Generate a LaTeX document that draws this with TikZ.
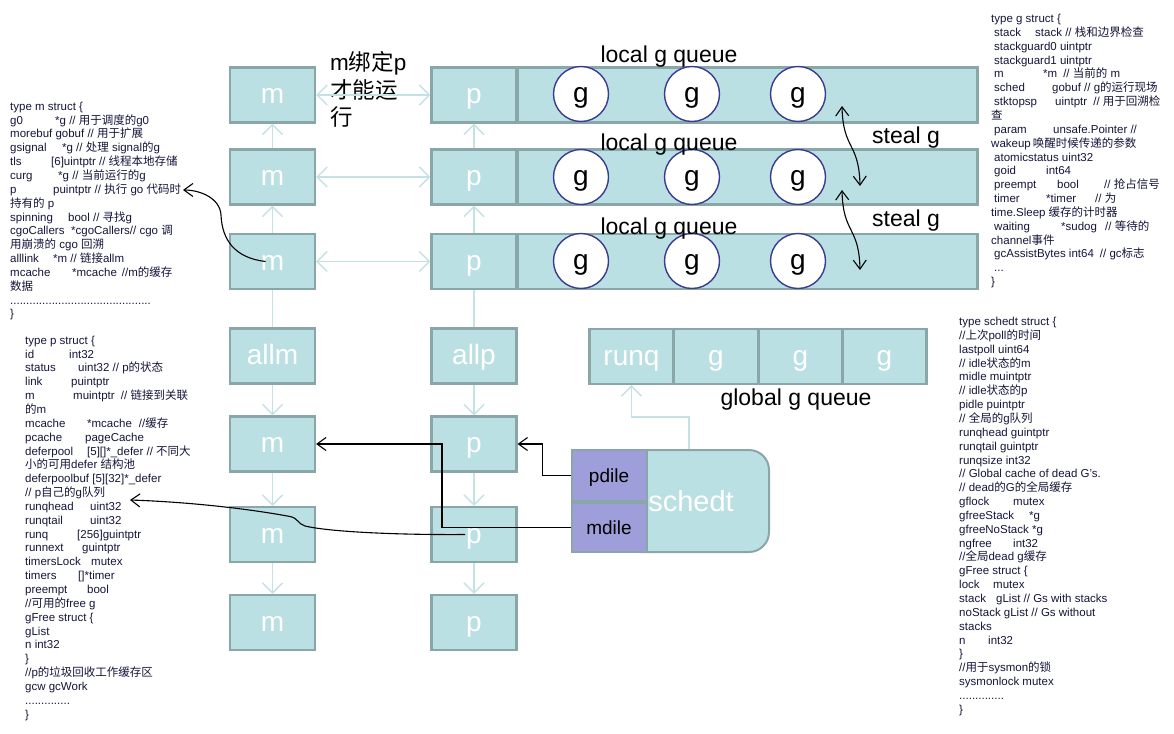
\documentclass[tikz,border=0pt]{standalone}
\usepackage{fontspec}
\setmainfont{Liberation Sans}
\newfontfamily\cjk{Noto Sans CJK SC}
\usetikzlibrary{arrows.meta,calc}
\definecolor{boxfill}{HTML}{BBE0E3}
\definecolor{boxline}{HTML}{89A6A8}
\definecolor{lightarr}{HTML}{C4E2E6}
\definecolor{purp}{HTML}{9E9EDB}
\definecolor{circ}{HTML}{3A3A90}
\definecolor{codecol}{HTML}{15153A}
\newcommand\zhs[1]{{\cjk #1}}
\newcommand\tcol[2]{\makebox[#1pt][l]{#2}}
\tikzset{LTip/.tip={Straight Barb[length=10pt,width=20pt]},
         BTip/.tip={Straight Barb[length=9pt,width=13pt]}}
\begin{document}
\begin{tikzpicture}[x=1pt,y=-1pt,
 bx/.style={draw=boxline, fill=boxfill, line width=2.2pt, minimum width=85pt, minimum height=55pt, inner sep=0pt, text=white, font=\fontsize{28}{30}\selectfont, text height=21pt, text depth=4pt},
 qbox/.style={draw=boxline, fill=boxfill, line width=2.2pt, minimum width=460pt, minimum height=55pt, inner sep=0pt},
 cell/.style={bx, minimum width=84pt},
 gc/.style={circle, draw=circ, fill=white, line width=1.4pt, minimum size=55pt, inner sep=0pt, font=\fontsize{28}{30}\selectfont, text height=21pt, text depth=4pt},
 pbox/.style={draw=boxline, fill=purp, line width=2pt, minimum width=75pt, inner sep=0pt, font=\fontsize{19}{20}\selectfont, text height=14pt, text depth=1pt},
 big/.style={font=\fontsize{23}{25}\selectfont, inner sep=0pt, anchor=base},
 code/.style={anchor=north west, align=left, inner sep=0pt, text=codecol, font=\fontsize{11.5}{13.85}\selectfont},
 larr/.style={draw=lightarr, line width=1.5pt, -{LTip}},
 ldbl/.style={draw=lightarr, line width=1.5pt, {LTip}-{LTip}},
 lline/.style={draw=lightarr, line width=1.5pt},
 barr/.style={draw=black, line width=1.1pt, -{BTip}},
 bdbl/.style={draw=black, line width=1.1pt, {BTip}-{BTip}},
]
\fill[white] (0,0) rectangle (1174,733);
\useasboundingbox (0,0) rectangle (1174,733);

% m column
\node[bx] (m1) at (272.5,95) {m};
\node[bx] (m2) at (272.5,177) {m};
\node[bx] (m3) at (272.5,261.5) {m};
\node[bx] (allm) at (272.5,356) {allm};
\node[bx] (m4) at (272.5,444) {m};
\node[bx] (m5) at (272.5,534.5) {m};
\node[bx] (m6) at (272.5,622.5) {m};

% queues and p column
\node[qbox] (q1) at (747.5,95) {};
\node[qbox] (q2) at (747.5,177) {};
\node[qbox] (q3) at (747.5,261.5) {};
\node[bx] (p1) at (474,95) {p};
\node[bx] (p2) at (474,177) {p};
\node[bx] (p3) at (474,261.5) {p};
\node[bx] (allp) at (474,356) {allp};
\node[bx] (p4) at (474,444) {p};
\node[bx] (p5) at (474,534.5) {p};
\node[bx] (p6) at (474,622.5) {p};

% g circles
\foreach \r/\yy in {1/94,2/177,3/261}{
  \node[gc] (g\r a) at (581,\yy) {g};
  \node[gc] (g\r b) at (692,\yy) {g};
  \node[gc] (g\r c) at (798,\yy) {g};
}

% global queue
\node[cell] (runq) at (631.5,356.5) {runq};
\node[cell] (rg1) at (716,356.5) {g};
\node[cell] (rg2) at (800.5,356.5) {g};
\node[cell] (rg3) at (884.5,356.5) {g};
\node[big] (glbl) at (796,405) {global g queue};

% schedt
\node[draw=boxline, fill=boxfill, line width=2pt, rounded corners=20pt, minimum width=148pt, minimum height=102pt] (schedt) at (695,501) {};
\node[text=white, font=\fontsize{29}{30}\selectfont, inner sep=0pt, text height=21pt, text depth=4pt] (schedtlbl) at (691,503) {schedt};
\node[pbox, minimum height=51pt] (pdile) at (609,475.5) {pdile};
\node[pbox, minimum height=49pt] (mdile) at (609,527.5) {mdile};

% labels
\node[big] (lq1) at (669,62.5) {local g queue};
\node[big] (lq2) at (669,150) {local g queue};
\node[big] (lq3) at (669,234) {local g queue};
\node[big] (st1) at (906,143) {steal g};
\node[big] (st2) at (906,226) {steal g};
\node[anchor=north west, align=left, inner sep=0pt, font=\fontsize{22.5}{27.5}\selectfont] (bind) at (330,50.5)
  {\rule{0pt}{20pt}m\zhs{绑定}p\\\zhs{才能运}\\\zhs{行}};

% light connectors
\draw[ldbl] (m1.east) -- (p1.west);
\draw[ldbl] (m2.east) -- (p2.west);
\draw[ldbl] (m3.east) -- (p3.west);
\draw[larr] (m2.north) -- (m1.south);
\draw[larr] (m3.north) -- (m2.south);
\draw[lline] (allm.north) -- (m3.south);
\draw[larr] (allm.south) -- (m4.north);
\draw[larr] (m4.south) -- (m5.north);
\draw[larr] (m5.south) -- (m6.north);
\draw[larr] (p2.north) -- (p1.south);
\draw[larr] (p3.north) -- (p2.south);
\draw[lline] (allp.north) -- (p3.south);
\draw[larr] (allp.south) -- (p4.north);
\draw[larr] (p4.south) -- (p5.north);
\draw[larr] (p5.south) -- (p6.north);
\coordinate (stop) at (689,449);
\draw[larr] (stop) -- ++(0,-32) -| (runq.south);

% black connectors
\draw[barr] (pdile.west) -- ++(-28,0) |- (p4.east);
\coordinate (mk) at (442,444);
\draw[barr] (mdile.west) -| (mk) -- (m4.east);
\coordinate (s1a) at (842,106);
\coordinate (s1b) at (860,186);
\coordinate (s2a) at (842,190);
\coordinate (s2b) at (860,270);
\draw[bdbl] (s1a) .. controls (843,150) and (859,142) .. (s1b);
\draw[bdbl] (s2a) .. controls (843,234) and (859,226) .. (s2b);
\coordinate (rqh) at (130,500);
\coordinate (pln) at (183,190);
\draw[barr] ([xshift=-9pt]p5.center) .. controls (400,535) and (330,532) .. (305,526)
   .. controls (298,524) and (298,518) .. (290,516.5) .. controls (250,509) and (190,502) .. (rqh);
\draw[barr] ([xshift=-7pt]m3.center) .. controls (235,258) and (222,240) .. (221,215)
   .. controls (220,198) and (200,190) .. (pln);

% code blocks
\node[code] (mstruct) at (10,100) {\rule{0pt}{10pt}type m struct \{\\
\tcol{45}{g0}*g // \zhs{用于调度的}g0\\
morebuf gobuf // \zhs{用于扩展}\\
\tcol{52}{gsignal}*g // \zhs{处理} signal\zhs{的}g\\
\tcol{41}{tls}[6]uintptr // \zhs{线程本地存储}\\
\tcol{48}{curg}*g // \zhs{当前运行的}g\\
\tcol{43}{p}puintptr // \zhs{执行} go \zhs{代码时}\\
\zhs{持有的} p\\
\tcol{58}{spinning}bool // \zhs{寻找}g\\
\tcol{61}{cgoCallers}*cgoCallers// cgo \zhs{调}\\
\zhs{用崩溃的} cgo \zhs{回溯}\\
\tcol{43}{alllink}*m // \zhs{链接}allm\\
\tcol{62}{mcache}*mcache\hspace*{5pt}//m\zhs{的缓存}\\
\zhs{数据}\\
............................................\\
\}};

\node[code] (pstruct) at (25,334) {\rule{0pt}{10pt}type p struct \{\\
\tcol{44}{id}int32\\
\tcol{53}{status}uint32 // p\zhs{的状态}\\
\tcol{46}{link}puintptr\\
\tcol{48}{m}muintptr\hspace*{3pt} // \zhs{链接到关联}\\
\zhs{的}m\\
\tcol{62}{mcache}*mcache\hspace*{7pt}//\zhs{缓存}\\
\tcol{60}{pcache}pageCache\\
\tcol{62}{deferpool}[5][]*\_defer // \zhs{不同大}\\
\zhs{小的可用}defer \zhs{结构池}\\
deferpoolbuf [5][32]*\_defer\\
// p\zhs{自己的}g\zhs{队列}\\
\tcol{65}{runqhead}uint32\\
\tcol{65}{runqtail}uint32\\
\tcol{52}{runq}[256]guintptr\\
\tcol{57}{runnext}guintptr\\
\tcol{66}{timersLock}mutex\\
\tcol{53}{timers}[]*timer\\
\tcol{62}{preempt}bool\\
//\zhs{可用的}free g\\
gFree struct \{\\
gList\\
n int32\\
\}\\
//p\zhs{的垃圾回收工作缓存区}\\
gcw gcWork\\
..............\\
\}};

\node[code] (gstruct) at (991,12.3) {\rule{0pt}{10pt}type g struct \{\\
\hspace*{3pt}\tcol{41}{stack}stack // \zhs{栈和边界检查}\\
\hspace*{3pt}stackguard0 uintptr\\
\hspace*{3pt}stackguard1 uintptr\\
\hspace*{3pt}\tcol{49}{m}*m\hspace*{6pt}// \zhs{当前的} m\\
\hspace*{3pt}\tcol{58}{sched}gobuf // g\zhs{的运行现场}\\
\hspace*{3pt}\tcol{61}{stktopsp}uintptr\hspace*{3pt} // \zhs{用于回溯检}\\
\zhs{查}\\
\hspace*{3pt}\tcol{59}{param}unsafe.Pointer //\\
wakeup\,\zhs{唤醒时候传递的参数}\\
\hspace*{3pt}atomicstatus uint32\\
\hspace*{3pt}\tcol{52}{goid}int64\\
\hspace*{3pt}\tcol{63}{preempt}\tcol{47}{bool}// \zhs{抢占信号}\\
\hspace*{3pt}\tcol{52}{timer}\tcol{49}{*timer}// \zhs{为}\\
time.Sleep \zhs{缓存的计时器}\\
\hspace*{3pt}\tcol{67}{waiting}\tcol{44}{*sudog}// \zhs{等待的}\\
channel\zhs{事件}\\
\hspace*{3pt}gcAssistBytes int64\hspace*{6pt}// gc\zhs{标志}\\
\hspace*{3pt}...\\
\}};

\node[code] (sstruct) at (959,315.3) {\rule{0pt}{10pt}type schedt struct \{\\
//\zhs{上次}poll\zhs{的时间}\\
lastpoll uint64\\
// idle\zhs{状态的}m\\
midle muintptr\\
// idle\zhs{状态的}p\\
pidle puintptr\\
// \zhs{全局的}g\zhs{队列}\\
runqhead guintptr\\
runqtail guintptr\\
runqsize int32\\
// Global cache of dead G's.\\
// dead\zhs{的}G\zhs{的全局缓存}\\
\tcol{54}{gflock}mutex\\
\tcol{70}{gfreeStack}*g\\
gfreeNoStack *g\\
\tcol{54}{ngfree}int32\\
//\zhs{全局}dead g\zhs{缓存}\\
gFree struct \{\\
\tcol{34}{lock}mutex\\
\tcol{37}{stack}gList // Gs with stacks\\
noStack gList // Gs without\\
stacks\\
\tcol{29}{n}int32\\
\}\\
//\zhs{用于}sysmon\zhs{的锁}\\
sysmonlock mutex\\
..............\\
\}};
\end{tikzpicture}
\end{document}
